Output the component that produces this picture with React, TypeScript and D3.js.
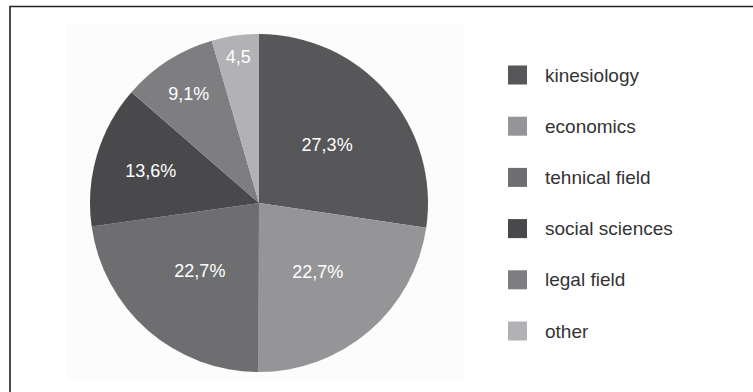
import * as React from 'react'
import * as d3 from 'd3'

const categories = ['kinesiology', 'economics', 'tehnical field', 'social sciences', 'legal field', 'other']
const shares = [27.3, 22.7, 22.7, 13.6, 9.1, 4.5]
const sliceLabels = ['27,3%', '22,7%', '22,7%', '13,6%', '9,1%', '4,5']
const sliceColors = ['#575759', '#959597', '#6e6e71', '#49494b', '#7e7e81', '#b2b2b5']

const W = 753
const H = 392
const cx = 259
const cy = 203
const R = 169

export default function App() {
  const pie = d3.pie<number>().sort(null).value(d => d)
  const arcs = pie(shares)
  const arc = d3.arc<d3.PieArcDatum<number>>().innerRadius(0).outerRadius(R)

  // small slices get their label pushed outward
  const labelR = d3.scaleLinear().domain([4.5, 13.6, 22.7]).range([148, 113, 90]).clamp(true)

  const legendY = d3.scalePoint<string>().domain(categories).range([75, 331])

  return (
    <svg width={W} height={H} style={{ position: 'absolute', left: 0, top: 0, display: 'block' }}
      fontFamily="'Liberation Sans', Arial, sans-serif">
      <rect x={0} y={0} width={W} height={H} fill="#fff" />
      <rect x={67} y={24} width={397} height={356} fill="#fcfcfc" />
      <path d={`M10,392 V6.5 H${W}`} fill="none" stroke="#222" strokeWidth={1.6} />

      <g transform={`translate(${cx},${cy})`}>
        {arcs.map((a, i) => (
          <path key={i} d={arc(a) || ''} fill={sliceColors[i]} />
        ))}
        {arcs.map((a, i) => {
          const mid = (a.startAngle + a.endAngle) / 2
          const r = labelR(a.data)
          return (
            <text key={'l' + i} x={Math.sin(mid) * r} y={-Math.cos(mid) * r} dy="0.36em"
              textAnchor="middle" fill="#fff" fontSize={18}>
              {sliceLabels[i]}
            </text>
          )
        })}
      </g>

      <g>
        {categories.map((c, i) => (
          <g key={c} transform={`translate(508,${legendY(c)})`}>
            <rect x={0} y={-9.5} width={19} height={19} fill={sliceColors[i]} />
            <text x={37} y={6.5} fontSize={19} fill="#333">{c}</text>
          </g>
        ))}
      </g>
    </svg>
  )
}
